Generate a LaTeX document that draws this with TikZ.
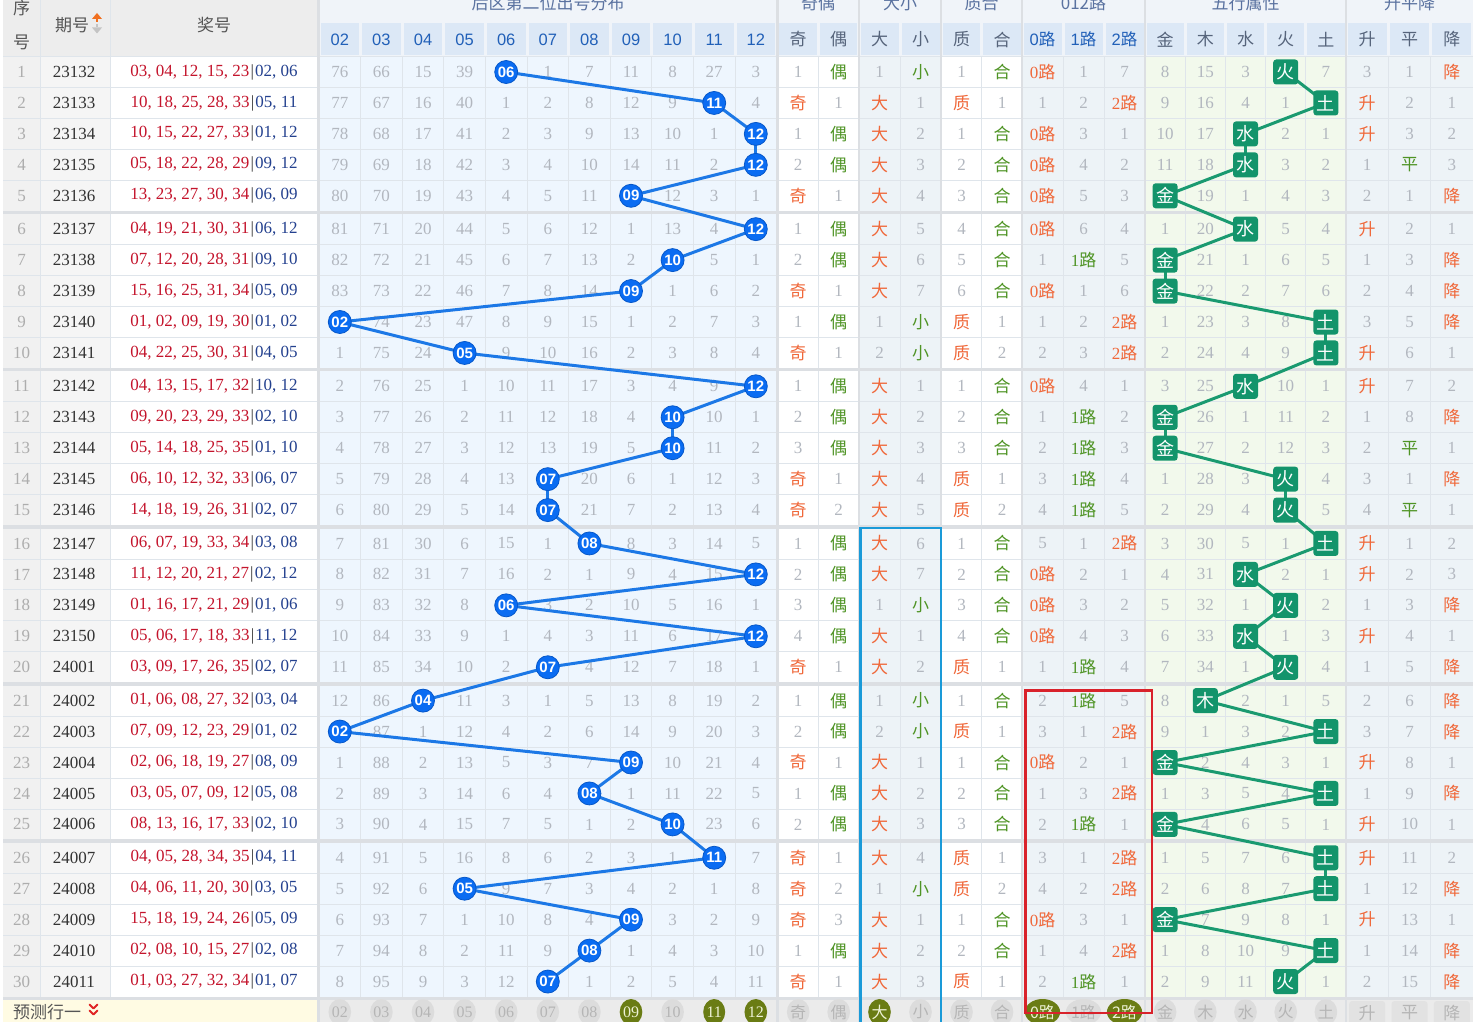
\documentclass[tikz,border=0pt]{standalone}
\usepackage{fontspec}
\setmainfont{Liberation Serif}
\setsansfont{Liberation Sans}
\newfontfamily\cjk{Noto Sans CJK SC}
\usetikzlibrary{shapes.geometric}
\pgfdeclarelayer{links}
\pgfdeclarelayer{top}
\pgfsetlayers{main,links,top}
\definecolor{gtxt}{HTML}{B2B7BF}
\definecolor{seqc}{HTML}{ADADAD}
\definecolor{isscol}{HTML}{333333}
\definecolor{hred}{HTML}{F0683A}
\definecolor{hgrn}{HTML}{4F9425}
\definecolor{frontred}{HTML}{C4142C}
\definecolor{backblue}{HTML}{24418F}
\definecolor{bardark}{HTML}{333333}
\definecolor{ballblue}{HTML}{0A6CF2}
\definecolor{balledge}{HTML}{0657C9}
\definecolor{linkblue}{HTML}{1C78E6}
\definecolor{wxgreen}{HTML}{13946B}
\definecolor{wxline}{HTML}{1A9A70}
\definecolor{distbg}{HTML}{EEF6FE}
\definecolor{greybg}{HTML}{EDF3F7}
\definecolor{wxbg}{HTML}{F2F9EC}
\definecolor{leftbg}{HTML}{F1F1F1}
\definecolor{issbg}{HTML}{F5F5F5}
\definecolor{gridc}{HTML}{DFE5EB}
\definecolor{sepc}{HTML}{DCDFE3}
\definecolor{hdrbg}{HTML}{F0F4F9}
\definecolor{hdrleft}{HTML}{EDEDED}
\definecolor{hdrcell}{HTML}{DCE8F6}
\definecolor{hdrblue}{HTML}{2160B8}
\definecolor{hdrgrey}{HTML}{56647B}
\definecolor{hdrtitle}{HTML}{5A72A0}
\definecolor{lhdrc}{HTML}{555555}
\definecolor{olive}{HTML}{6A7C14}
\definecolor{oliveTxt}{HTML}{EEF2D6}
\definecolor{fcgrey}{HTML}{DCDCDC}
\definecolor{fctxt}{HTML}{B5B5B5}
\definecolor{fcbg}{HTML}{EBEBEB}
\definecolor{fcboxc}{HTML}{E2E2E2}
\definecolor{yelbg}{HTML}{FFFBE3}
\definecolor{boxblue}{HTML}{1A9AD8}
\definecolor{boxred}{HTML}{D9222B}
\definecolor{sortup}{HTML}{F07020}
\definecolor{sortdn}{HTML}{C4C4C4}
\definecolor{chev}{HTML}{E02424}
\tikzset{
 num/.style={inner sep=0pt,font=\fontsize{17}{17}\selectfont,text=gtxt},
 hit/.style={inner sep=0pt,font=\fontsize{17}{17}\selectfont},
 ball/.style={circle,inner sep=0pt,minimum size=23pt,fill=ballblue,draw=balledge,line width=0.8pt,text=white,font=\sffamily\bfseries\fontsize{15}{15}\selectfont},
 wxbox/.style={rectangle,rounded corners=3pt,minimum width=25pt,minimum height=25pt,inner sep=0pt,fill=wxgreen,text=white,font=\cjk\fontsize{18}{18}\selectfont},
 blink/.style={draw=linkblue,line width=3pt},
 glink/.style={draw=wxline,line width=3pt},
 thinsep/.style={draw=gridc,line width=0.8pt},
 thicksep/.style={draw=sepc,line width=3.5pt},
 vsep/.style={draw=sepc,line width=2.5pt},
 vthin/.style={draw=gridc,line width=0.8pt},
 seqtxt/.style={inner sep=0pt,font=\fontsize{17}{17}\selectfont,text=seqc},
 isstxt/.style={inner sep=0pt,font=\fontsize{17}{17}\selectfont,text=isscol},
 drawtxt/.style={inner sep=0pt,font=\fontsize{17}{17}\selectfont},
 grptitle/.style={inner sep=0pt,font=\cjk\fontsize{17}{17}\selectfont,text=hdrtitle},
 subnum/.style={inner sep=0pt,font=\sffamily\fontsize{16.5}{16.5}\selectfont,text=hdrblue},
 subcjk/.style={inner sep=0pt,font=\cjk\fontsize{17}{17}\selectfont,text=hdrgrey},
 lefthdr/.style={inner sep=0pt,font=\cjk\fontsize{17}{17}\selectfont,text=lhdrc},
 fcoff/.style={ellipse,inner sep=0pt,minimum width=22pt,minimum height=26pt,fill=fcgrey,text=fctxt,font=\fontsize{16}{16}\selectfont},
 fcon/.style={fcoff,fill=olive,text=oliveTxt},
 fcrect/.style={rectangle,rounded corners=3pt,inner sep=0pt,minimum width=36pt,minimum height=24pt,fill=fcboxc,text=fctxt,font=\cjk\fontsize{17}{17}\selectfont},
 fclabel/.style={inner sep=0pt,font=\cjk\fontsize{17}{17}\selectfont,text=lhdrc},
}
\newcommand\ballab[1]{\ifcase#1\or 02\or 03\or 04\or 05\or 06\or 07\or 08\or 09\or 10\or 11\or 12\fi}
\newcommand\labOE[1]{\ifcase#1\or\textcolor{hred}{\cjk 奇}\or\textcolor{hgrn}{\cjk 偶}\fi}
\newcommand\labBS[1]{\ifcase#1\or\textcolor{hred}{\cjk 大}\or\textcolor{hgrn}{\cjk 小}\fi}
\newcommand\labPC[1]{\ifcase#1\or\textcolor{hred}{\cjk 质}\or\textcolor{hgrn}{\cjk 合}\fi}
\newcommand\labRD[1]{\ifcase#1\or\textcolor{hred}{0{\cjk 路}}\or\textcolor{hgrn}{1{\cjk 路}}\or\textcolor{hred}{2{\cjk 路}}\fi}
\newcommand\labSP[1]{\ifcase#1\or\textcolor{hred}{\cjk 升}\or\textcolor{hgrn}{\cjk 平}\or\textcolor{hred}{\cjk 降}\fi}
\newcommand\labWX[1]{\ifcase#1\or 金\or 木\or 水\or 火\or 土\fi}
\newcommand\rowY[1]{\pgfmathsetmacro\yy{72+30.95*(#1-1)+2.4*floor((#1-1)/5)}}
\newcommand\grp[7]{%
  \foreach \v [count=\k] in #5 {%
    \pgfmathsetmacro\xx{#1+#2*(\k-1)}%
    \ifnum\k=#4\relax
      \node[hit] (#7-\k) at (\xx,#3) {#6{\k}};%
    \else
      \node[num] (#7-\k) at (\xx,#3) {\v};%
    \fi}}
\newcommand\wxgrp[4]{%
  \foreach \v [count=\k] in #3 {%
    \pgfmathsetmacro\xx{1165.1+40.2*(\k-1)}%
    \ifnum\k=#2\relax
      \begin{pgfonlayer}{top}\node[wxbox] (w#4) at (\xx,#1) {\labWX{\k}};\end{pgfonlayer}%
    \else
      \node[num] (wx#4-\k) at (\xx,#1) {\v};%
    \fi}}
\newcommand\hcells[3]{\foreach \c in {1,...,#3}{\pgfmathsetmacro\xl{#1+#2*(\c-1)}\fill[hdrcell] (\xl+1.5,23) rectangle (\xl+#2-1.5,55.5);}}
\begin{document}
\begin{tikzpicture}[x=1pt,y=-1pt]
\useasboundingbox (0,0) rectangle (1477,1022);
\clip (0,0) rectangle (1477,1022);
\fill[white] (0,0) rectangle (1477,1022);
% ---------- header backgrounds
\fill[hdrleft] (3,0) rectangle (318,56.5);
\fill[hdrbg] (318,0) rectangle (1473,56.5);
\hcells{319}{41.6}{11}
\hcells{777.5}{40.5}{2}
\hcells{859}{41}{2}
\hcells{941}{40.5}{2}
\hcells{1022}{41}{3}
\hcells{1145}{40.2}{5}
\hcells{1346}{42.3}{3}
% ---------- column backgrounds
\fill[leftbg] (3,56.5) rectangle (40,998);
\fill[issbg] (40,56.5) rectangle (110,998);
\fill[distbg] (318,56.5) rectangle (777.5,998);
\fill[greybg] (859,56.5) rectangle (941,998);
\fill[greybg] (1022,56.5) rectangle (1145,998);
\fill[wxbg] (1145,56.5) rectangle (1346,998);
\fill[greybg] (1346,56.5) rectangle (1473,998);
% forecast row backgrounds
\fill[yelbg] (3,999) rectangle (318,1022);
\fill[fcbg] (318,999) rectangle (1473,1022);
% ---------- vertical thin lines
\foreach \xv in {40,110,360.6,402.2,443.8,485.4,527,568.6,610.2,651.8,693.4,735,818,900,981.5,1063,1104,1185.2,1225.4,1265.6,1305.8,1388.3,1430.6}
  \draw[vthin] (\xv,56.5) -- (\xv,998);
\draw[vthin] (40,0) -- (40,56.5);
\draw[vthin] (110,0) -- (110,56.5);
% ---------- horizontal lines
\draw[thinsep] (3,56.5) -- (1473,56.5);
\foreach \i in {1,...,29}{
  \pgfmathsetmacro\ya{72+30.95*(\i-1)+2.4*floor((\i-1)/5)}
  \pgfmathsetmacro\yb{72+30.95*(\i)+2.4*floor((\i)/5)}
  \pgfmathsetmacro\ym{(\ya+\yb)/2}
  \pgfmathtruncatemacro\md{mod(\i,5)}
  \ifnum\md=0 \draw[thicksep] (3,\ym) -- (1473,\ym); \else \draw[thinsep] (3,\ym) -- (1473,\ym); \fi
}
\draw[thicksep] (3,998.5) -- (1473,998.5);
% ---------- vertical group separators
\foreach \xv in {318.5,777.5,859,941,1022,1145,1346}
  \draw[vsep] (\xv,0) -- (\xv,1022);
% ---------- header texts
\node[lefthdr] (hxu) at (21.5,8) {序};
\node[lefthdr] (hhao) at (21.5,42) {号};
\node[lefthdr] (hqh) at (72,25) {期号};
\fill[sortup] (92,19) -- (102,19) -- (97,13) -- cycle;
\fill[sortup] (95.6,19) rectangle (98.4,22.5);
\fill[sortdn] (95.6,24) rectangle (98.4,27.5);
\fill[sortdn] (92,27.5) -- (102,27.5) -- (97,33.5) -- cycle;
\node[lefthdr] (hjh) at (214,25) {奖号};
\node[grptitle] (t1) at (548,3.5) {后区第二位出号分布};
\node[grptitle] (t2) at (818,3.5) {奇偶};
\node[grptitle] (t3) at (900,3.5) {大小};
\node[grptitle] (t4) at (981.5,3.5) {质合};
\node[grptitle] (t5) at (1083.5,3.5) {012路};
\node[grptitle] (t6) at (1245.5,3.5) {五行属性};
\node[grptitle] (t7) at (1409.5,3.5) {升平降};
\foreach \c [count=\k] in {02,03,04,05,06,07,08,09,10,11,12}{
  \pgfmathsetmacro\xx{339.8+41.6*(\k-1)}
  \node[subnum] (sh\k) at (\xx,39.5) {\c};
}
\foreach \xx/\c [count=\k] in {798.2/奇,838.7/偶,879.5/大,920.5/小,961.5/质,1002/合,1165.1/金,1205.3/木,1245.5/水,1285.7/火,1325.9/土,1367.2/升,1409.5/平,1451.8/降}
  \node[subcjk] (sc\k) at (\xx,39.5) {\c};
\foreach \xx/\c [count=\k] in {1042.5/0,1083.5/1,1124.5/2}
  \node[subnum] (sr\k) at (\xx,39.5) {\c{\cjk 路}};
% ---------- left data
\foreach \i/\iss/\fr/\bk in {
1/23132/{03, 04, 12, 15, 23}/{02, 06},
2/23133/{10, 18, 25, 28, 33}/{05, 11},
3/23134/{10, 15, 22, 27, 33}/{01, 12},
4/23135/{05, 18, 22, 28, 29}/{09, 12},
5/23136/{13, 23, 27, 30, 34}/{06, 09},
6/23137/{04, 19, 21, 30, 31}/{06, 12},
7/23138/{07, 12, 20, 28, 31}/{09, 10},
8/23139/{15, 16, 25, 31, 34}/{05, 09},
9/23140/{01, 02, 09, 19, 30}/{01, 02},
10/23141/{04, 22, 25, 30, 31}/{04, 05},
11/23142/{04, 13, 15, 17, 32}/{10, 12},
12/23143/{09, 20, 23, 29, 33}/{02, 10},
13/23144/{05, 14, 18, 25, 35}/{01, 10},
14/23145/{06, 10, 12, 32, 33}/{06, 07},
15/23146/{14, 18, 19, 26, 31}/{02, 07},
16/23147/{06, 07, 19, 33, 34}/{03, 08},
17/23148/{11, 12, 20, 21, 27}/{02, 12},
18/23149/{01, 16, 17, 21, 29}/{01, 06},
19/23150/{05, 06, 17, 18, 33}/{11, 12},
20/24001/{03, 09, 17, 26, 35}/{02, 07},
21/24002/{01, 06, 08, 27, 32}/{03, 04},
22/24003/{07, 09, 12, 23, 29}/{01, 02},
23/24004/{02, 06, 18, 19, 27}/{08, 09},
24/24005/{03, 05, 07, 09, 12}/{05, 08},
25/24006/{08, 13, 16, 17, 33}/{02, 10},
26/24007/{04, 05, 28, 34, 35}/{04, 11},
27/24008/{04, 06, 11, 20, 30}/{03, 05},
28/24009/{15, 18, 19, 24, 26}/{05, 09},
29/24010/{02, 08, 10, 15, 27}/{02, 08},
30/24011/{01, 03, 27, 32, 34}/{01, 07}}{
  \rowY{\i}
  \node[seqtxt] (s\i) at (21.5,\yy) {\i};
  \node[isstxt] (q\i) at (74,\yy) {\iss};
  \node[drawtxt] (d\i) at (214,\yy) {\textcolor{frontred}{\fr}\hspace{1.2pt}\textcolor{bardark}{|}\hspace{1.2pt}\textcolor{backblue}{\bk}};
}
% ---------- distribution
\foreach \i/\h/\vals in {
1/5/{76,66,15,39,X,1,7,11,8,27,3},
2/10/{77,67,16,40,1,2,8,12,9,X,4},
3/11/{78,68,17,41,2,3,9,13,10,1,X},
4/11/{79,69,18,42,3,4,10,14,11,2,X},
5/8/{80,70,19,43,4,5,11,X,12,3,1},
6/11/{81,71,20,44,5,6,12,1,13,4,X},
7/9/{82,72,21,45,6,7,13,2,X,5,1},
8/8/{83,73,22,46,7,8,14,X,1,6,2},
9/1/{X,74,23,47,8,9,15,1,2,7,3},
10/4/{1,75,24,X,9,10,16,2,3,8,4},
11/11/{2,76,25,1,10,11,17,3,4,9,X},
12/9/{3,77,26,2,11,12,18,4,X,10,1},
13/9/{4,78,27,3,12,13,19,5,X,11,2},
14/6/{5,79,28,4,13,X,20,6,1,12,3},
15/6/{6,80,29,5,14,X,21,7,2,13,4},
16/7/{7,81,30,6,15,1,X,8,3,14,5},
17/11/{8,82,31,7,16,2,1,9,4,15,X},
18/5/{9,83,32,8,X,3,2,10,5,16,1},
19/11/{10,84,33,9,1,4,3,11,6,17,X},
20/6/{11,85,34,10,2,X,4,12,7,18,1},
21/3/{12,86,X,11,3,1,5,13,8,19,2},
22/1/{X,87,1,12,4,2,6,14,9,20,3},
23/8/{1,88,2,13,5,3,7,X,10,21,4},
24/7/{2,89,3,14,6,4,X,1,11,22,5},
25/9/{3,90,4,15,7,5,1,2,X,23,6},
26/10/{4,91,5,16,8,6,2,3,1,X,7},
27/4/{5,92,6,X,9,7,3,4,2,1,8},
28/8/{6,93,7,1,10,8,4,X,3,2,9},
29/7/{7,94,8,2,11,9,X,1,4,3,10},
30/6/{8,95,9,3,12,X,1,2,5,4,11}}{
  \rowY{\i}
  \foreach \v [count=\k] in \vals {
    \pgfmathsetmacro\xx{339.8+41.6*(\k-1)}
    \ifnum\k=\h\relax
      \begin{pgfonlayer}{top}\node[ball] (b\i) at (\xx,\yy) {\ballab{\k}};\end{pgfonlayer}
    \else
      \node[num] (g\i-\k) at (\xx,\yy) {\v};
    \fi
  }
}
% ---------- right groups
\foreach \i/\oe/\oeL/\bs/\bsL/\pc/\pcL/\rd/\rdL/\wx/\wxL/\sp/\spL in {
1/2/{1,X}/2/{1,X}/2/{1,X}/1/{X,1,7}/4/{8,15,3,X,7}/3/{3,1,X},
2/1/{X,1}/1/{X,1}/1/{X,1}/3/{1,2,X}/5/{9,16,4,1,X}/1/{X,2,1},
3/2/{1,X}/1/{X,2}/2/{1,X}/1/{X,3,1}/3/{10,17,X,2,1}/1/{X,3,2},
4/2/{2,X}/1/{X,3}/2/{2,X}/1/{X,4,2}/3/{11,18,X,3,2}/2/{1,X,3},
5/1/{X,1}/1/{X,4}/2/{3,X}/1/{X,5,3}/1/{X,19,1,4,3}/3/{2,1,X},
6/2/{1,X}/1/{X,5}/2/{4,X}/1/{X,6,4}/3/{1,20,X,5,4}/1/{X,2,1},
7/2/{2,X}/1/{X,6}/2/{5,X}/2/{1,X,5}/1/{X,21,1,6,5}/3/{1,3,X},
8/1/{X,1}/1/{X,7}/2/{6,X}/1/{X,1,6}/1/{X,22,2,7,6}/3/{2,4,X},
9/2/{1,X}/2/{1,X}/1/{X,1}/3/{1,2,X}/5/{1,23,3,8,X}/3/{3,5,X},
10/1/{X,1}/2/{2,X}/1/{X,2}/3/{2,3,X}/5/{2,24,4,9,X}/1/{X,6,1},
11/2/{1,X}/1/{X,1}/2/{1,X}/1/{X,4,1}/3/{3,25,X,10,1}/1/{X,7,2},
12/2/{2,X}/1/{X,2}/2/{2,X}/2/{1,X,2}/1/{X,26,1,11,2}/3/{1,8,X},
13/2/{3,X}/1/{X,3}/2/{3,X}/2/{2,X,3}/1/{X,27,2,12,3}/2/{2,X,1},
14/1/{X,1}/1/{X,4}/1/{X,1}/2/{3,X,4}/4/{1,28,3,X,4}/3/{3,1,X},
15/1/{X,2}/1/{X,5}/1/{X,2}/2/{4,X,5}/4/{2,29,4,X,5}/2/{4,X,1},
16/2/{1,X}/1/{X,6}/2/{1,X}/3/{5,1,X}/5/{3,30,5,1,X}/1/{X,1,2},
17/2/{2,X}/1/{X,7}/2/{2,X}/1/{X,2,1}/3/{4,31,X,2,1}/1/{X,2,3},
18/2/{3,X}/2/{1,X}/2/{3,X}/1/{X,3,2}/4/{5,32,1,X,2}/3/{1,3,X},
19/2/{4,X}/1/{X,1}/2/{4,X}/1/{X,4,3}/3/{6,33,X,1,3}/1/{X,4,1},
20/1/{X,1}/1/{X,2}/1/{X,1}/2/{1,X,4}/4/{7,34,1,X,4}/3/{1,5,X},
21/2/{1,X}/2/{1,X}/2/{1,X}/2/{2,X,5}/2/{8,X,2,1,5}/3/{2,6,X},
22/2/{2,X}/2/{2,X}/1/{X,1}/3/{3,1,X}/5/{9,1,3,2,X}/3/{3,7,X},
23/1/{X,1}/1/{X,1}/2/{1,X}/1/{X,2,1}/1/{X,2,4,3,1}/1/{X,8,1},
24/2/{1,X}/1/{X,2}/2/{2,X}/3/{1,3,X}/5/{1,3,5,4,X}/3/{1,9,X},
25/2/{2,X}/1/{X,3}/2/{3,X}/2/{2,X,1}/1/{X,4,6,5,1}/1/{X,10,1},
26/1/{X,1}/1/{X,4}/1/{X,1}/3/{3,1,X}/5/{1,5,7,6,X}/1/{X,11,2},
27/1/{X,2}/2/{1,X}/1/{X,2}/3/{4,2,X}/5/{2,6,8,7,X}/3/{1,12,X},
28/1/{X,3}/1/{X,1}/2/{1,X}/1/{X,3,1}/1/{X,7,9,8,1}/1/{X,13,1},
29/2/{1,X}/1/{X,2}/2/{2,X}/3/{1,4,X}/5/{1,8,10,9,X}/3/{1,14,X},
30/1/{X,1}/1/{X,3}/1/{X,1}/2/{2,X,1}/4/{2,9,11,X,1}/3/{2,15,X}}{
  \rowY{\i}
  \grp{798.2}{40.5}{\yy}{\oe}{\oeL}{\labOE}{oe\i}
  \grp{879.5}{41}{\yy}{\bs}{\bsL}{\labBS}{bs\i}
  \grp{961.5}{40.5}{\yy}{\pc}{\pcL}{\labPC}{pc\i}
  \grp{1042.5}{41}{\yy}{\rd}{\rdL}{\labRD}{rd\i}
  \wxgrp{\yy}{\wx}{\wxL}{\i}
  \grp{1367.2}{42.3}{\yy}{\sp}{\spL}{\labSP}{sp\i}
}
% ---------- connectors
\begin{pgfonlayer}{links}
\foreach \i [evaluate=\i as \j using int(\i+1)] in {1,...,29}{
  \draw[blink] (b\i.center) -- (b\j.center);
  \draw[glink] (w\i.center) -- (w\j.center);
}
\end{pgfonlayer}
% ---------- forecast row
\node[fclabel] (fclab) at (47,1012) {预测行一};
\draw[chev,line width=1.8pt,line cap=round,line join=round] (89.5,1004.5) -- (93.5,1008.5) -- (97.5,1004.5);
\draw[chev,line width=1.8pt,line cap=round,line join=round] (89.5,1010.5) -- (93.5,1014.5) -- (97.5,1010.5);
\foreach \c/\o [count=\k] in {02/0,03/0,04/0,05/0,06/0,07/0,08/0,09/1,10/0,11/1,12/1}{
  \pgfmathsetmacro\xx{339.8+41.6*(\k-1)}
  \ifnum\o=1 \node[fcon] (fd\k) at (\xx,1012) {\c}; \else \node[fcoff] (fd\k) at (\xx,1012) {\c}; \fi
}
\foreach \xx/\c/\o [count=\k] in {798.2/奇/0,838.7/偶/0,879.5/大/1,920.5/小/0,961.5/质/0,1002/合/0,1042.5/0路/1,1083.5/1路/0,1124.5/2路/1,1165.1/金/0,1205.3/木/0,1245.5/水/0,1285.7/火/0,1325.9/土/0}{
  \ifnum\o=1 \node[fcon,font=\cjk\fontsize{16}{16}\selectfont] (fr\k) at (\xx,1012) {\c}; \else \node[fcoff,font=\cjk\fontsize{16}{16}\selectfont] (fr\k) at (\xx,1012) {\c}; \fi
}
\foreach \xx/\c [count=\k] in {1367.2/升,1409.5/平,1451.8/降}
  \node[fcrect] (fs\k) at (\xx,1013) {\c};
% ---------- highlight frames
\draw[boxblue,line width=2.6pt] (860.5,528) rectangle (941,1030);
\draw[boxred,line width=2.6pt] (1025.5,690.5) rectangle (1152,1013);
\end{tikzpicture}
\end{document}
